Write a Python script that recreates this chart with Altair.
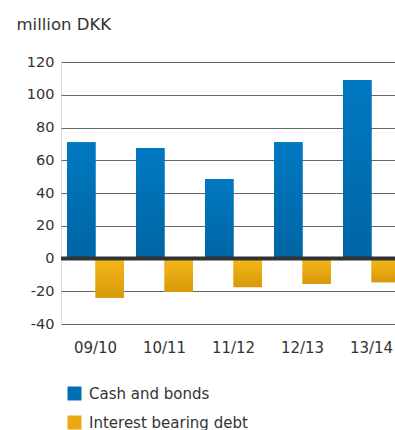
import altair as alt
import pandas as pd

periods = ["09/10", "10/11", "11/12", "12/13", "13/14"]
cash = [71, 67.5, 48.5, 71, 109]
debt = [-24, -20.5, -17.5, -15.5, -14.5]
series_names = ["Cash and bonds", "Interest bearing debt"]
colors = ["#0070b5", "#e8a912"]
y_ticks = [-40, -20, 0, 20, 40, 60, 80, 100, 120]

rows = []
for p, c, d in zip(periods, cash, debt):
    rows.append({"period": p, "series": series_names[0], "value": c})
    rows.append({"period": p, "series": series_names[1], "value": d})
df = pd.DataFrame(rows)

FONT = "DejaVu Sans"

x_enc = alt.X(
    "period:N",
    sort=periods,
    scale=alt.Scale(range=[0, 345], paddingInner=0.174, paddingOuter=0.087),
    axis=alt.Axis(title=None, labelAngle=0, domain=False, ticks=False,
                  labelPadding=16, labelFontSize=15, labelColor="#333",
                  labelFont=FONT),
)
xo_enc = alt.XOffset("series:N", sort=series_names)
y_scale = alt.Scale(domain=[-40, 120], nice=False)
y_axis = alt.Axis(values=y_ticks, title="million DKK", titleAngle=0,
                  titleX=-45, titleY=-33, titleAlign="left",
                  titleBaseline="alphabetic", titleFontSize=16.5,
                  titleFontWeight="normal", titleColor="#333", titleFont=FONT,
                  domain=False, ticks=False, labelPadding=7,
                  labelFontSize=14.5, labelColor="#333", labelFont=FONT,
                  labelExpr="'' + datum.value",
                  labelOverlap=False, gridColor="#666", gridWidth=1)
y_enc = alt.Y("value:Q", scale=y_scale, axis=y_axis)

base = alt.Chart(df).mark_bar(clip=True).encode(
    x=x_enc,
    xOffset=xo_enc,
    y=y_enc,
    color=alt.Color(
        "series:N",
        sort=series_names,
        scale=alt.Scale(domain=series_names, range=colors),
        legend=alt.Legend(
            title=None, orient="none", legendX=6, legendY=324,
            direction="vertical", symbolType="square", symbolSize=196,
            symbolStrokeWidth=0, labelFontSize=15, labelColor="#333",
            labelFont=FONT, rowPadding=13, padding=0, labelOffset=7,
        ),
    ),
)

blue_grad = {"gradient": "linear", "x1": 0, "y1": 0, "x2": 0, "y2": 1,
             "stops": [{"offset": 0, "color": "#0079c2"},
                       {"offset": 1, "color": "#0065a4"}]}
yellow_grad = {"gradient": "linear", "x1": 0, "y1": 0, "x2": 0, "y2": 1,
               "stops": [{"offset": 0, "color": "#f6b719"},
                         {"offset": 1, "color": "#d8990b"}]}

blue = alt.Chart(df).transform_filter(
    alt.datum.series == series_names[0]
).mark_bar(clip=True, fill=blue_grad).encode(x=x_enc, xOffset=xo_enc, y=y_enc)

yellow = alt.Chart(df).transform_filter(
    alt.datum.series == series_names[1]
).mark_bar(clip=True, fill=yellow_grad).encode(x=x_enc, xOffset=xo_enc, y=y_enc)

zero = alt.Chart(pd.DataFrame({"value": [0]})).mark_rule(
    color="#333", strokeWidth=4
).encode(y=y_enc)

chart = alt.layer(base, blue, yellow, zero).properties(
    width=334,
    height=262,
    autosize=alt.AutoSizeParams(type="none"),
    padding={"left": 61, "top": 62, "right": 0, "bottom": 106},
).configure_view(stroke=None).configure(background="white")

chart.save("out.html", embed_options={"renderer": "svg", "actions": False})
